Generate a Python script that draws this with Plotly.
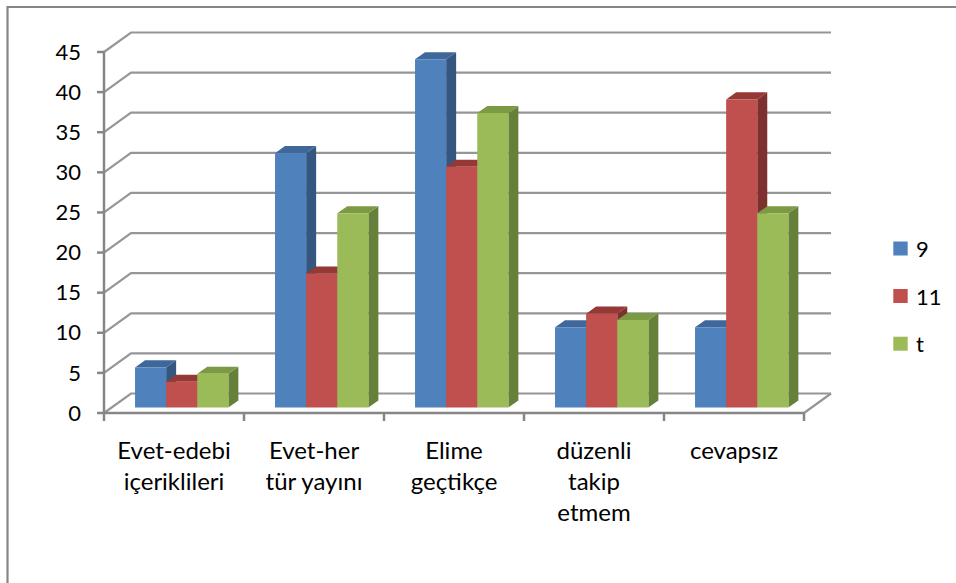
import plotly.graph_objects as go

# ---------------- data ----------------
categories = ["Evet-edebi<br>içeriklileri", "Evet-her<br>tür yayını", "Elime<br>geçtikçe",
              "düzenli<br>takip<br>etmem", "cevapsız"]
series_names = ["9", "11", "t"]
values_9 = [5.0, 31.7, 43.4, 10.0, 10.0]
values_11 = [3.2, 16.7, 30.0, 11.7, 38.4]
values_t = [4.2, 24.2, 36.7, 10.9, 24.2]
y_tick_values = [0, 5, 10, 15, 20, 25, 30, 35, 40, 45]

series_values = [values_9, values_11, values_t]
front_colors = ["#4F81BD", "#C0504D", "#9BBB59"]
side_colors = ["#35577F", "#7E302E", "#66803A"]
top_colors = ["#3E679A", "#953836", "#7A9A44"]
grid_color = "#969696"
axis_color = "#868686"
FONT = "Lato, 'Open Sans', sans-serif"

# ---------------- geometry (pixels -> axis units) ----------------
W, H = 956, 583
L_PX, R_PX, T_PX, B_PX = 93, 846, 20, 423
X0_PX, CAT_PX = 104, 140.0          # x=0 pixel, pixels per category
Y0_PX, UNIT_PX = 413, 361.0 / 45    # y=0 pixel, pixels per value unit

x_range = [(L_PX - X0_PX) / CAT_PX, (R_PX - X0_PX) / CAT_PX]
y_range = [(Y0_PX - B_PX) / UNIT_PX, (Y0_PX - T_PX) / UNIT_PX]

dxb, dyb = 27.0 / CAT_PX, 19.5 / UNIT_PX      # back wall depth
fdx, fdy = 7.7 / CAT_PX, 5.5 / UNIT_PX        # bar front plane depth
ddx, ddy = 10.0 / CAT_PX, 7.1 / UNIT_PX       # bar depth
bw = 1 / 4.5                                  # bar width (gap 150%)
n_cat = len(categories)
n_ser = len(series_names)
ymax = y_tick_values[-1]

fig = go.Figure()

def poly(xs, ys, color):
    fig.add_trace(go.Scatter(x=xs + [xs[0]], y=ys + [ys[0]], mode="lines", fill="toself",
                             fillcolor=color, line=dict(width=0, color=color),
                             hoverinfo="skip", showlegend=False))

def lines(xs, ys, color, width):
    fig.add_trace(go.Scatter(x=xs, y=ys, mode="lines", line=dict(color=color, width=width),
                             hoverinfo="skip", showlegend=False, connectgaps=False))

# gridlines: back wall + left wall diagonals
gx, gy = [], []
for v in y_tick_values:
    gx += [0, dxb, n_cat + dxb, None]
    gy += [v, v + dyb, v + dyb, None]
# floor right edge
gx += [n_cat, n_cat + dxb, None]
gy += [0, dyb, None]
lines(gx, gy, grid_color, 2.2)

# bars (painter order: left to right)
for i in range(n_cat):
    for s in range(n_ser):
        v = series_values[s][i]
        xl = i + 0.5 - 1.5 * bw + s * bw + fdx
        xr = xl + bw
        b = fdy
        t = fdy + v
        poly([xr, xr + ddx, xr + ddx, xr], [b, b + ddy, t + ddy, t], side_colors[s])
        poly([xl, xl + ddx, xr + ddx, xr], [t, t + ddy, t + ddy, t], top_colors[s])
        poly([xl, xr, xr, xl], [b, b, t, t], front_colors[s])

# front frame: y axis line, floor front line, ticks
fx, fy = [0, 0, None, 0, n_cat, None], [0, ymax, None, 0, 0, None]
for k in range(n_cat + 1):
    fx += [k, k, None]
    fy += [0, -8.0 / UNIT_PX, None]
for v in y_tick_values:
    fx += [0, -7.0 / CAT_PX, None]
    fy += [v, v, None]
lines(fx, fy, axis_color, 2.5)

# ---------------- layout ----------------
plot_w = R_PX - L_PX
plot_h = B_PX - T_PX

def px_x(p):
    return (p - L_PX) / plot_w

def px_y(p):
    return (B_PX - p) / plot_h

shapes = [dict(type="rect", xref="paper", yref="paper",
               x0=px_x(7.5), x1=px_x(990), y0=px_y(7), y1=px_y(620),
               line=dict(color=axis_color, width=2.2), fillcolor="rgba(0,0,0,0)", layer="below")]
annotations = []
legend_y = [248.5, 296.0, 343.7]
for s in range(n_ser):
    shapes.append(dict(type="rect", xref="paper", yref="paper",
                       x0=px_x(893.3), x1=px_x(907.7),
                       y0=px_y(legend_y[s] - 7), y1=px_y(legend_y[s] + 7),
                       line=dict(width=0), fillcolor=front_colors[s]))
    annotations.append(dict(xref="paper", yref="paper", x=px_x(914), y=px_y(legend_y[s]),
                            xanchor="left", yanchor="middle", text=series_names[s],
                            showarrow=False, font=dict(family=FONT, size=22, color="#000000")))

fig.update_layout(
    width=W, height=H,
    margin=dict(l=L_PX, r=W - R_PX, t=T_PX, b=H - B_PX, pad=0),
    paper_bgcolor="white", plot_bgcolor="white",
    showlegend=False,
    shapes=shapes, annotations=annotations,
    xaxis=dict(range=x_range, showgrid=False, zeroline=False, showline=False,
               tickvals=[i + 0.5 for i in range(n_cat)], ticktext=categories,
               ticks="", ticklabelstandoff=11,
               tickfont=dict(family=FONT, size=24, color="#000000"), fixedrange=True),
    yaxis=dict(range=y_range, showgrid=False, zeroline=False, showline=False,
               tickvals=y_tick_values, ticks="", ticklabelstandoff=11,
               tickfont=dict(family=FONT, size=22, color="#000000"), fixedrange=True),
)

fig.write_html("out.html", config={"displayModeBar": False})
